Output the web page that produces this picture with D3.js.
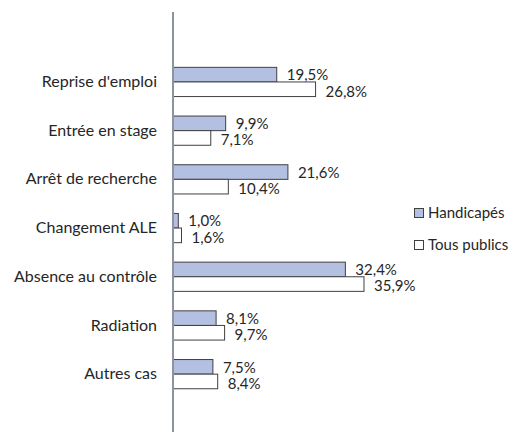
<!DOCTYPE html>
<html><head><meta charset="utf-8">
<script src="https://cdn.jsdelivr.net/npm/d3@7"></script>
<style>body{margin:0;background:#fff;} text{font-family:Lato,"Open Sans",sans-serif;fill:#262626;}</style>
</head><body>
<svg id="chart" width="527" height="432"></svg>
<script>
const categories = ["Reprise d'emploi","Entrée en stage","Arrêt de recherche","Changement ALE","Absence au contrôle","Radiation","Autres cas"];
const seriesNames = ["Handicapés","Tous publics"];
const handicapes = [19.5, 9.9, 21.6, 1.0, 32.4, 8.1, 7.5];
const tousPublics = [26.8, 7.1, 10.4, 1.6, 35.9, 9.7, 8.4];
const seriesValues = [handicapes, tousPublics];
const colors = ["#b4c0e2", "#ffffff"];

const svg = d3.select("#chart");
const x = d3.scaleLinear().domain([0, 40]).range([173, 173 + 40 * 5.32]);
const y = d3.scaleBand().domain(categories).range([57.6, 398.5]).paddingInner(0.4).paddingOuter(0.2);
const ys = d3.scaleBand().domain(seriesNames).range([0, y.bandwidth()]);
const fmt = v => v.toFixed(1).replace(".", ",") + "%";
const labelShift = [0.5, 2];

const g = svg.append("g");
categories.forEach((c, i) => {
  seriesNames.forEach((s, j) => {
    const v = seriesValues[j][i];
    const yy = y(c) + ys(s);
    g.append("rect")
      .attr("x", x(0)).attr("y", yy)
      .attr("width", x(v) - x(0)).attr("height", ys.bandwidth())
      .attr("fill", colors[j]).attr("stroke", "#404040").attr("stroke-width", 1);
    g.append("text")
      .attr("x", x(v) + 10).attr("y", yy + ys.bandwidth() / 2 + labelShift[j])
      .attr("dy", "0.35em").attr("font-size", 15)
      .text(fmt(v));
  });
});

// category axis
const axis = d3.axisLeft(y).tickSize(0).tickPadding(16);
const ag = svg.append("g").attr("transform", `translate(${x(0)},0)`).call(axis);
ag.select(".domain").remove();
ag.selectAll("text").attr("font-size", 16).style("font-family", "Lato,'Open Sans',sans-serif").attr("fill", "#262626");
svg.append("line").attr("x1", x(0)).attr("x2", x(0)).attr("y1", 12).attr("y2", 432)
  .attr("stroke", "#8d949e").attr("stroke-width", 2);

// legend
const lg = svg.append("g");
seriesNames.forEach((s, j) => {
  const ly = 208 + j * 32;
  lg.append("rect").attr("x", 414.5).attr("y", ly + 0.5).attr("width", 9).attr("height", 9)
    .attr("fill", colors[j]).attr("stroke", "#404040").attr("stroke-width", 1);
  lg.append("text").attr("x", 428).attr("y", ly + 5).attr("dy", "0.35em").attr("font-size", 15).text(s);
});
</script>
</body></html>
